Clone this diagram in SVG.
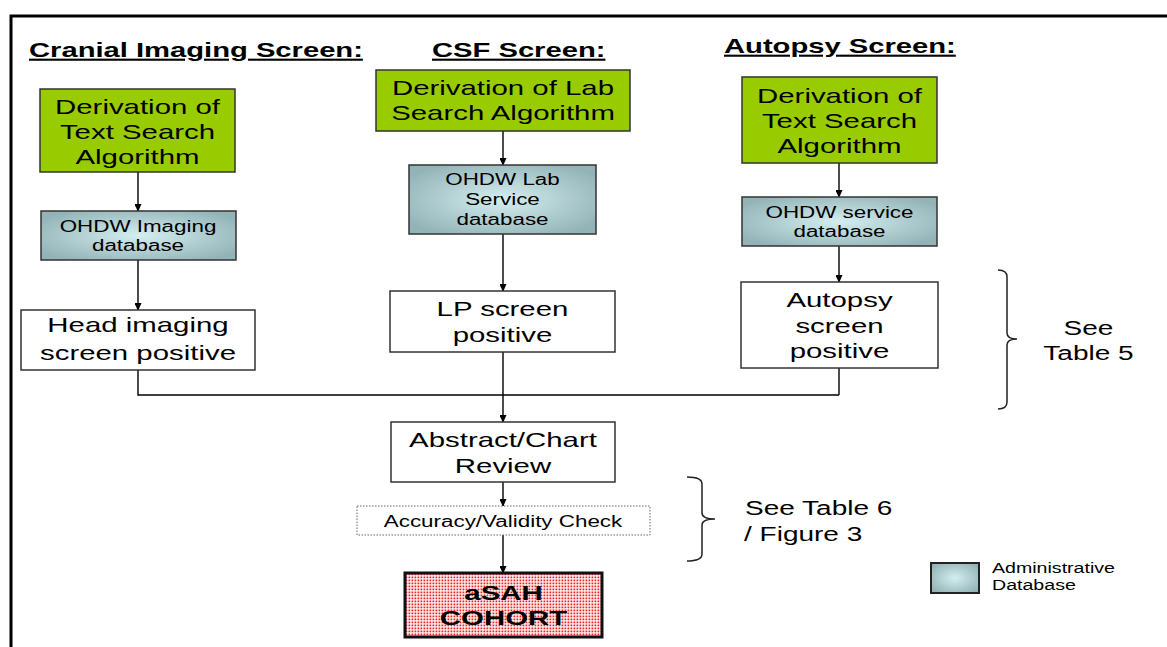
<svg xmlns="http://www.w3.org/2000/svg" width="1167" height="647" viewBox="0 0 1167 647">
<defs>
<style>
.t{font-family:"Liberation Sans",Arial,Helvetica,sans-serif;fill:#000;text-anchor:middle}
.l{text-anchor:start}
.h{font-size:21px;font-weight:bold;text-decoration:underline}
.f21{font-size:21px}
.f16{font-size:16px}
.f20{font-size:20px}
.f14{font-size:14px}
.bd{font-weight:bold}
.green{fill:#99cc00;stroke:#333;stroke-width:1.5}
.teal{fill:url(#tealg);stroke:#333;stroke-width:1.5}
.white{fill:#fff;stroke:#333;stroke-width:1.5}
.dot{fill:#fff;stroke:#666;stroke-width:1;stroke-dasharray:1.5 1.5}
.conn{fill:none;stroke:#000;stroke-width:1.4}
.arr{marker-end:url(#ah)}
.brace{fill:none;stroke:#222;stroke-width:1.5}
</style>
<radialGradient id="tealg" cx="50%" cy="50%" r="60%">
<stop offset="0" stop-color="#d4eef0"/>
<stop offset="1" stop-color="#93b4b7"/>
</radialGradient>
<pattern id="reddots" width="3" height="3" patternUnits="userSpaceOnUse">
<rect width="3" height="3" fill="#fff"/>
<rect x="0.5" y="0.5" width="1.8" height="1.8" fill="#f02020"/>
</pattern>
<marker id="ah" markerWidth="8" markerHeight="7" refX="7" refY="3.5" orient="auto" markerUnits="userSpaceOnUse">
<path d="M0,0 L8,3.5 L0,7 Z" fill="#000"/>
</marker>
</defs>
<rect width="1167" height="647" fill="#fff"/>
<g id="frame">
<path d="M11,647 L11,16 L1167,16" fill="none" stroke="#000" stroke-width="3"/>
</g>
<g id="titles">
<text class="t l h" transform="translate(29,57) scale(1.39,1)">Cranial Imaging Screen:</text>
<text class="t l h" transform="translate(432,57) scale(1.39,1)">CSF Screen:</text>
<text class="t l h" transform="translate(724,53) scale(1.39,1)">Autopsy Screen:</text>
</g>
<g id="connectors">
<path class="conn arr" d="M138,172 L138,211"/>
<path class="conn arr" d="M138,260 L138,310"/>
<path class="conn" d="M138,370 L138,395 L839,395"/>
<path class="conn" d="M839,368 L839,395"/>
<path class="conn arr" d="M503,131 L503,165"/>
<path class="conn arr" d="M503,234 L503,291"/>
<path class="conn arr" d="M503,352 L503,422"/>
<path class="conn arr" d="M839,163 L839,197"/>
<path class="conn arr" d="M839,246 L839,282"/>
<path class="conn arr" d="M503,482 L503,506"/>
<path class="conn arr" d="M503,535 L503,573"/>
</g>
<g id="cranial-derivation">
<rect class="green" x="40" y="89" width="195" height="83"/>
<text class="t f21" transform="translate(137.5,114) scale(1.4,1)">Derivation of</text>
<text class="t f21" transform="translate(137.5,139) scale(1.4,1)">Text Search</text>
<text class="t f21" transform="translate(137.5,164) scale(1.4,1)">Algorithm</text>
</g>
<g id="imaging-db">
<rect class="teal" x="41" y="211" width="195" height="49"/>
<text class="t f16" transform="translate(138,232) scale(1.4,1)">OHDW Imaging</text>
<text class="t f16" transform="translate(138,251) scale(1.4,1)">database</text>
</g>
<g id="head-imaging">
<rect class="white" x="21" y="310" width="234" height="60"/>
<text class="t f21" transform="translate(138,332) scale(1.4,1)">Head imaging</text>
<text class="t f21" transform="translate(138,360) scale(1.4,1)">screen positive</text>
</g>
<g id="csf-derivation">
<rect class="green" x="376" y="70" width="254" height="61"/>
<text class="t f21" transform="translate(503,95) scale(1.4,1)">Derivation of Lab</text>
<text class="t f21" transform="translate(503,120) scale(1.4,1)">Search Algorithm</text>
</g>
<g id="lab-db">
<rect class="teal" x="409" y="165" width="187" height="69"/>
<text class="t f16" transform="translate(502.5,185) scale(1.4,1)">OHDW Lab</text>
<text class="t f16" transform="translate(502.5,205) scale(1.4,1)">Service</text>
<text class="t f16" transform="translate(502.5,225) scale(1.4,1)">database</text>
</g>
<g id="lp-positive">
<rect class="white" x="390" y="291" width="225" height="61"/>
<text class="t f21" transform="translate(502.5,316) scale(1.4,1)">LP screen</text>
<text class="t f21" transform="translate(502.5,342) scale(1.4,1)">positive</text>
</g>
<g id="autopsy-derivation">
<rect class="green" x="742" y="77" width="195" height="86"/>
<text class="t f21" transform="translate(839.5,103) scale(1.4,1)">Derivation of</text>
<text class="t f21" transform="translate(839.5,128) scale(1.4,1)">Text Search</text>
<text class="t f21" transform="translate(839.5,153) scale(1.4,1)">Algorithm</text>
</g>
<g id="service-db">
<rect class="teal" x="742" y="197" width="195" height="49"/>
<text class="t f16" transform="translate(839.5,218) scale(1.4,1)">OHDW service</text>
<text class="t f16" transform="translate(839.5,237) scale(1.4,1)">database</text>
</g>
<g id="autopsy-positive">
<rect class="white" x="741" y="282" width="197" height="86"/>
<text class="t f21" transform="translate(839.5,307) scale(1.4,1)">Autopsy</text>
<text class="t f21" transform="translate(839.5,333) scale(1.4,1)">screen</text>
<text class="t f21" transform="translate(839.5,358) scale(1.4,1)">positive</text>
</g>
<g id="abstract-review">
<rect class="white" x="391" y="422" width="224" height="60"/>
<text class="t f21" transform="translate(503,447) scale(1.4,1)">Abstract/Chart</text>
<text class="t f21" transform="translate(503,473) scale(1.4,1)">Review</text>
</g>
<g id="accuracy-check">
<rect class="dot" x="357" y="506" width="293" height="29"/>
<text class="t f16" transform="translate(503,527) scale(1.4,1)">Accuracy/Validity Check</text>
</g>
<g id="asah-cohort">
<rect x="405" y="573" width="197" height="64" fill="url(#reddots)" stroke="#111" stroke-width="3"/>
<text class="t f21 bd" transform="translate(503.5,600) scale(1.4,1)">aSAH</text>
<text class="t f21 bd" transform="translate(503.5,625) scale(1.4,1)">COHORT</text>
</g>
<g id="brace-table5">
<path class="brace" d="M998,270 Q1007,270 1007,277 L1007,333 Q1007,339 1017,339 Q1007,339 1007,345 L1007,402 Q1007,409 998,409"/>
<text class="t f20" transform="translate(1088.5,335) scale(1.4,1)">See</text>
<text class="t f20" transform="translate(1088.5,360) scale(1.4,1)">Table 5</text>
</g>
<g id="brace-table6">
<path class="brace" d="M687,477 Q702,477 702,484 L702,513 Q702,519 715,519 Q702,519 702,525 L702,554 Q702,561 687,561"/>
<text class="t l f20" transform="translate(745,515) scale(1.4,1)">See Table 6</text>
<text class="t l f20" transform="translate(744,541) scale(1.4,1)">/ Figure 3</text>
</g>
<g id="legend">
<rect x="931" y="563" width="48" height="30" fill="url(#tealg)" stroke="#222" stroke-width="2"/>
<text class="t l f14" transform="translate(992,573) scale(1.4,1)">Administrative</text>
<text class="t l f14" transform="translate(992,590) scale(1.4,1)">Database</text>
</g>
</svg>
